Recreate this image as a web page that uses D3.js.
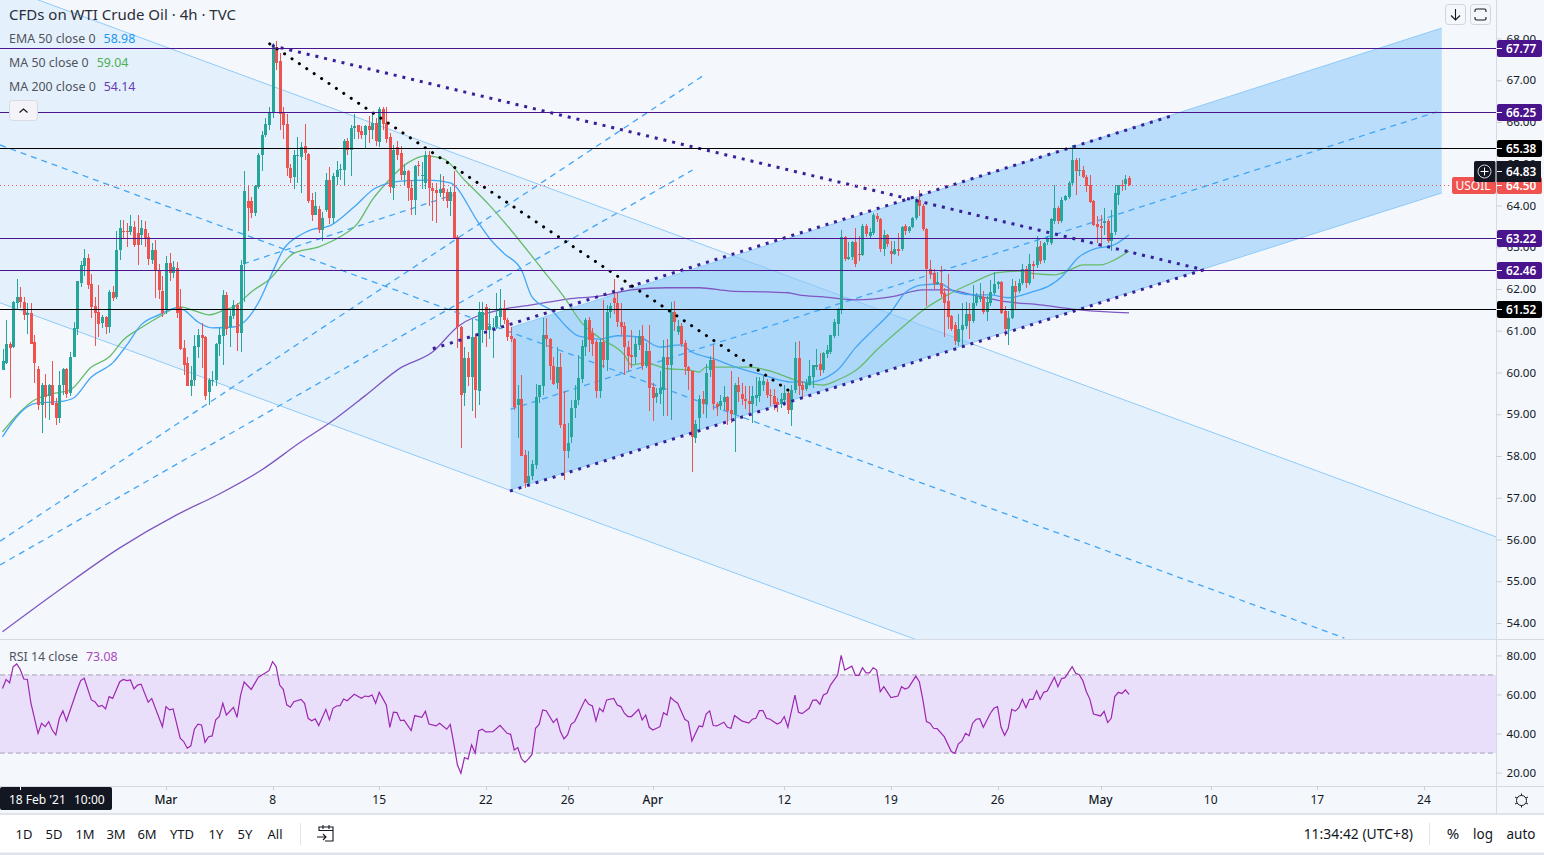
<!DOCTYPE html>
<html><head><meta charset="utf-8">
<style>html,body{margin:0;padding:0;background:#fff;overflow:hidden}svg{display:block}text{font-family:"Noto Sans",sans-serif}</style>
<script src="https://cdn.jsdelivr.net/npm/d3@7"></script></head><body><svg id="c" width="1544" height="855"></svg>
<script>
const opens=[60.07,60.22,60.69,60.6,61.66,61.8,61.69,61.38,61.42,60.74,
60.09,59.23,59.69,59.43,59.71,59.27,58.92,59.69,60.09,59.51,
60.37,61.05,62.14,62.55,62.74,62.12,61.6,61.46,61.18,61.33,
61.1,61.93,61.8,62.94,63.4,63.4,63.36,63.48,63.34,63.3,
63.44,63.24,62.7,62.94,62.46,61.96,61.5,62.62,62.38,62.5,
61.58,60.58,60.22,59.68,59.81,60.62,60.9,60.86,59.53,59.79,
59.81,60.69,60.88,61.86,61.08,61.36,61.62,60.94,62.6,64.1,
64.1,63.82,64.45,65.22,65.7,65.94,66.25,67.8,67.45,66.23,
65.95,64.9,64.68,65.2,65.17,65.42,65.24,64.14,63.78,63.92,
63.42,63.9,64.62,63.7,64.68,64.85,64.86,65.54,65.34,65.85,
65.93,65.78,65.7,65.9,65.8,65.97,65.53,66.3,65.98,65.65,
64.42,65.4,65.25,64.72,64.82,64.42,64.12,64.96,64.7,64.55,
65.22,64.42,64.38,64.3,64.42,64.32,64.1,64.32,63.25,61.1,
59.52,60.35,59.9,60.86,59.55,61.02,61.58,61.02,61.02,61.1,
61.34,61.54,61.26,60.88,60.8,59.21,59.36,58.02,57.35,57.52,
57.79,59.41,59.68,60.9,60.81,60.15,59.75,60.13,58.77,58.11,
58.45,59.15,59.33,59.85,60.62,61.26,60.94,60.72,59.55,60.72,
60.29,61.46,61.78,61.66,61.22,61.12,60.6,60.42,60.38,60.66,
60.88,60.16,60.52,59.65,59.41,59.49,59.59,60.37,60.19,61.46,
60.98,61.12,60.71,60.12,60.03,58.43,58.92,59.36,59.25,60.06,
60.3,59.25,59.2,59.3,59.41,59.09,59.01,59.71,59.49,59.36,
59.32,59.25,59.39,59.44,59.7,59.77,59.45,59.44,59.3,59.25,
59.33,59.5,59.11,59.59,60.35,59.69,59.6,59.71,59.9,60.13,
60.2,60.05,60.45,60.5,60.88,61.17,61.5,63.25,62.73,62.76,
63.13,62.85,62.81,63.52,63.27,63.35,63.76,63.68,62.95,63.3,
62.9,62.85,62.95,62.95,63.52,63.39,63.49,63.69,64.12,64.0,
63.44,62.49,62.39,62.13,62.15,61.9,61.71,61.35,61.13,60.74,
61.02,61.11,61.39,61.23,61.67,61.75,61.8,61.45,61.67,61.91,
62.11,62.17,61.47,61.03,61.31,62.07,61.95,62.15,62.49,62.15,
62.6,62.57,63.03,62.69,63.12,63.1,63.62,63.94,63.62,64.13,
64.2,64.53,65.08,64.82,64.86,64.69,64.49,64.1,63.55,63.5,
63.58,63.64,63.15,63.36,64.26,64.5,64.52,64.65];
const highs=[60.57,61.25,60.74,61.72,62.24,62.04,61.8,61.66,61.66,60.9,
60.15,59.75,59.97,59.73,60.27,59.39,60.03,60.11,60.11,60.5,
61.22,62.2,62.66,62.96,62.85,62.35,61.82,62.1,61.38,61.35,
61.98,62.06,63.38,63.66,63.66,63.58,63.78,63.62,63.78,63.66,
63.62,63.34,63.1,63.18,62.6,62.3,62.8,62.86,62.66,62.65,
62.0,60.77,60.37,60.15,60.9,61.04,61.18,60.88,59.87,60.03,
60.7,61.06,61.98,61.92,61.5,61.74,61.66,62.7,64.83,64.5,
64.2,64.49,65.25,65.78,66.1,66.36,67.9,67.95,67.65,66.36,
66.2,65.0,65.32,65.65,65.53,65.95,65.26,64.3,64.32,64.0,
63.84,64.77,64.92,64.78,65.07,65.0,65.6,65.62,65.93,66.2,
65.93,65.9,65.93,66.15,66.2,66.1,66.37,66.36,66.36,65.73,
65.45,65.55,65.42,65.0,64.85,64.62,64.98,65.07,65.05,65.3,
65.3,64.55,64.55,64.75,64.7,64.4,64.45,64.82,63.3,61.12,
60.6,60.5,61.3,60.9,61.7,61.7,61.65,61.54,61.3,61.9,
62.0,61.74,61.3,61.1,60.82,59.7,59.95,58.15,58.11,57.91,
59.73,59.71,61.3,61.3,60.83,60.38,60.62,60.46,59.55,58.8,
59.35,59.7,60.42,60.78,61.3,61.33,61.06,60.78,60.8,61.74,
61.62,61.66,62.24,61.9,61.66,61.22,60.75,61.02,60.86,61.02,
61.14,60.7,61.14,59.75,59.63,60.03,60.78,60.8,61.7,61.72,
61.26,61.18,60.78,60.15,60.04,58.87,59.46,59.55,60.2,60.4,
60.67,59.3,59.47,59.67,59.43,60.03,59.75,59.9,59.75,59.67,
59.67,59.67,59.9,59.9,59.95,59.85,59.6,59.6,59.4,59.5,
59.7,59.6,59.7,60.72,60.75,59.8,59.85,60.3,60.19,60.56,
60.47,60.5,60.67,60.9,61.29,61.54,63.42,63.27,63.12,63.14,
63.46,63.27,63.55,63.55,63.46,63.82,63.82,63.7,63.42,63.32,
63.15,63.15,63.34,63.5,63.55,63.5,63.72,64.18,64.36,64.03,
63.46,62.7,62.47,62.4,62.56,62.03,62.35,61.37,61.2,61.4,
61.67,61.7,61.67,62.1,61.9,62.15,61.95,61.83,62.21,62.4,
62.2,62.19,61.6,61.47,62.25,62.19,62.25,62.6,62.55,62.83,
62.67,63.27,63.15,63.12,63.27,63.7,64.49,64.0,64.2,64.26,
64.58,65.46,65.14,65.14,64.94,64.74,64.74,64.14,63.75,63.78,
63.94,63.67,63.89,64.49,64.5,64.62,64.72,64.7];
const lows=[60.05,60.2,59.4,60.58,61.52,61.54,61.25,60.93,60.69,59.76,
59.1,58.55,58.91,58.87,59.23,58.75,58.79,59.47,59.4,59.44,
60.37,60.89,62.05,62.3,62.0,61.3,60.64,60.86,61.06,60.93,
60.94,61.72,61.75,62.7,63.22,63.0,63.3,63.0,62.58,63.05,
63.0,62.58,62.6,61.78,61.75,61.32,61.4,62.2,62.26,61.3,
60.54,59.95,59.67,59.43,59.67,60.35,60.1,59.35,59.23,59.67,
59.67,60.4,60.18,60.9,60.62,61.28,60.52,60.5,61.7,63.4,
63.7,63.75,64.4,64.82,65.65,65.8,66.1,67.25,65.8,65.6,
64.7,64.55,64.4,64.53,64.3,65.1,64.06,63.62,63.78,63.34,
63.15,63.85,63.55,63.55,64.5,64.6,64.5,65.2,64.7,65.6,
65.6,65.6,65.38,65.5,65.6,65.42,65.4,65.8,65.5,64.3,
64.12,65.1,64.6,64.5,64.1,63.78,63.78,64.7,64.4,64.4,
64.0,63.62,63.58,64.2,64.1,63.95,63.75,63.2,60.58,58.2,
59.2,59.68,59.07,58.91,59.23,60.7,60.6,60.8,60.35,61.05,
61.1,61.15,60.75,60.74,59.1,58.43,57.99,57.23,57.27,57.43,
57.7,59.27,59.47,60.6,59.83,59.7,59.6,58.67,57.43,57.95,
58.31,58.9,59.23,59.75,60.4,60.5,60.4,59.39,59.4,60.1,
60.03,61.3,61.4,61.1,60.9,59.95,60.03,60.1,60.2,60.55,
60.05,60.1,59.07,58.83,59.27,59.25,58.95,58.95,58.87,61.0,
60.9,60.6,59.95,59.59,57.61,58.31,58.63,59.0,58.9,59.9,
59.1,58.95,59.1,59.1,58.75,58.8,58.09,59.3,59.23,59.13,
59.0,58.8,59.2,59.3,59.55,59.4,59.2,59.1,59.05,59.15,
59.2,59.0,58.71,59.5,59.47,59.4,59.55,59.67,59.63,60.07,
59.92,60.0,60.35,60.45,60.83,60.87,61.4,62.67,62.69,62.7,
62.52,62.67,62.78,63.25,63.2,63.3,63.6,62.88,62.8,63.0,
62.6,62.82,62.78,62.9,63.3,63.35,63.45,63.65,63.75,63.4,
61.6,62.25,62.0,62.1,61.8,60.85,61.03,61.0,60.65,60.63,
60.59,61.05,60.8,61.18,61.6,61.7,61.4,61.23,61.6,61.85,
62.0,61.39,60.87,60.66,61.28,61.5,61.9,62.1,62.03,62.1,
62.23,62.5,62.6,62.63,63.05,63.05,63.55,63.55,63.58,64.1,
64.15,64.5,64.26,64.7,64.65,64.33,64.05,63.5,63.09,63.0,
63.3,63.1,62.9,63.3,64.02,64.34,64.38,64.47];
const closes=[60.27,60.69,60.58,61.69,61.8,61.68,61.38,61.42,60.69,60.22,
59.23,59.7,59.41,59.71,59.23,58.92,59.71,60.09,59.49,60.37,
61.06,62.18,62.57,62.74,62.1,61.57,61.42,61.17,61.33,61.09,
61.94,61.78,62.94,63.46,63.38,63.38,63.5,63.06,63.06,63.46,
63.22,62.72,62.94,62.46,61.97,61.42,62.62,62.38,62.52,61.42,
60.56,60.18,59.67,59.81,60.64,60.9,60.82,59.43,59.81,59.83,
60.69,60.9,61.86,61.05,61.36,61.62,60.94,62.58,64.35,63.95,
63.82,64.47,65.2,65.7,65.96,66.25,67.8,67.41,66.2,65.93,
64.9,64.66,65.2,65.22,65.4,65.26,64.1,63.78,63.99,63.42,
63.7,64.62,63.7,64.7,64.85,64.88,65.54,65.34,65.85,65.9,
65.77,65.7,65.91,65.8,65.97,65.55,66.3,65.96,65.6,64.45,
65.33,65.2,64.73,64.82,64.42,64.12,64.95,64.94,64.74,65.2,
64.42,64.35,64.3,64.4,64.3,64.1,64.32,63.22,61.09,59.47,
60.35,59.9,60.86,59.57,61.46,61.45,61.02,61.12,61.1,61.36,
61.54,61.26,60.86,60.8,59.18,59.36,57.99,57.35,57.53,57.81,
59.41,59.69,60.9,60.81,60.15,59.73,60.13,58.75,58.11,58.31,
59.15,59.35,59.87,60.64,61.26,60.78,60.69,59.55,60.72,60.29,
61.46,61.6,61.66,61.22,61.1,60.6,60.4,60.36,60.69,60.88,
60.15,60.52,59.63,59.4,59.5,59.63,60.37,60.19,61.46,61.22,
61.12,60.69,60.12,60.03,58.45,58.77,59.36,59.25,59.99,60.3,
59.25,59.17,59.32,59.41,59.07,59.01,59.71,59.53,59.36,59.31,
59.25,59.43,59.47,59.79,59.79,59.47,59.43,59.25,59.23,59.36,
59.5,59.1,59.57,60.35,59.67,59.59,59.75,59.92,60.19,60.19,
60.05,60.47,60.53,60.89,61.22,61.52,63.25,62.71,62.76,63.13,
62.59,62.81,63.52,63.31,63.36,63.78,63.67,62.95,63.3,63.07,
62.85,62.96,62.92,63.49,63.38,63.49,63.7,64.16,63.98,63.44,
62.47,62.36,62.13,62.16,61.87,61.67,61.34,61.05,60.75,61.03,
61.13,61.39,61.23,61.67,61.83,61.81,61.45,61.7,61.93,62.13,
62.17,61.43,61.05,61.31,62.07,61.93,62.15,62.49,62.15,62.6,
62.55,63.0,62.67,63.1,63.23,63.68,63.94,63.62,64.14,64.22,
64.54,65.08,64.82,64.86,64.69,64.46,64.08,63.53,63.48,63.46,
63.64,63.15,63.35,64.29,64.5,64.46,64.64,64.5];

const emaBars=[0,4,7,10,16,20,25,31,35,39,44,49,51,55,59,65,68,72,76,79,84,87,92,99,105,113,120,126,134,137,141,146,149,155,159,162,168,173,179,185,191,194,200,207,214,222,227,232,235,240,245,250,254,259,264,268,273,278,283,289,295,298,303,308,312,317];
const emaVals=[58.46,58.94,59.18,59.27,59.30,59.39,59.89,60.23,60.66,61.14,61.38,61.55,61.50,61.21,61.07,61.09,61.21,61.67,62.41,62.94,63.30,63.42,63.51,63.97,64.42,64.59,64.61,64.54,63.58,63.22,62.86,62.46,61.81,61.45,61.07,60.88,60.80,60.88,60.85,60.61,60.66,60.49,60.33,60.11,59.94,59.77,59.77,59.89,60.06,60.59,61.02,61.45,61.91,62.10,62.12,61.93,61.86,61.86,61.79,61.91,62.10,62.29,62.77,62.98,63.03,63.30];
const maBars=[0,5,9,14,19,25,30,34,39,44,50,55,58,62,66,70,75,82,89,95,100,104,108,114,119,124,130,137,143,152,158,163,168,175,177,181,187,193,196,198,202,210,217,223,226,231,235,238,241,246,254,260,266,273,280,286,291,296,301,304,309,313,317];
const maVals=[58.58,59.06,59.34,59.49,59.58,60.13,60.37,60.78,61.07,61.33,61.57,61.45,61.38,61.48,61.62,61.93,62.22,62.86,63.01,63.25,63.58,64.13,64.54,65.02,65.19,65.12,64.61,64.01,63.42,62.46,61.81,61.19,60.83,60.42,60.18,60.23,60.09,60.06,60.01,60.13,60.13,60.13,60.01,59.82,59.75,59.70,59.82,59.94,60.11,60.54,61.14,61.55,61.86,62.15,62.39,62.43,62.36,62.34,62.48,62.58,62.58,62.70,62.91];
const ma200Bars=[0,16,33,49,61,73,84,92,102,112,121,128,140,149,159,168,177,187,196,205,215,221,224,231,240,250,259,266,273,283,292,301,311,317];
const ma200Vals=[53.79,54.79,55.80,56.59,57.09,57.67,58.34,58.79,59.44,60.11,60.49,61.09,61.50,61.62,61.76,61.83,61.98,62.03,62.03,61.95,61.93,61.91,61.86,61.81,61.74,61.81,61.98,61.98,61.86,61.69,61.62,61.52,61.45,61.43];

const rsiBars=[0,1,2,3,4,5,6,7,8,10,11,12,13,14,15,16,17,18,21,22,23,25,26,27,28,29,30,31,33,34,35,36,37,38,39,41,42,45,46,47,48,50,51,52,53,54,55,56,57,58,59,60,61,62,63,65,66,67,68,70,71,72,75,76,77,78,79,80,81,82,84,85,86,87,88,89,91,92,93,94,95,96,97,99,101,102,103,104,105,106,107,108,109,110,111,112,113,115,116,118,119,120,122,123,125,126,127,128,129,130,131,132,133,134,135,136,138,140,142,143,144,145,146,147,148,149,150,151,152,153,155,156,157,158,159,160,161,164,165,166,167,168,169,170,172,173,174,175,176,177,179,180,181,182,183,185,186,187,188,189,190,192,193,194,196,197,198,199,200,201,203,204,205,206,208,210,211,212,213,214,215,216,218,219,220,221,223,224,225,227,228,229,230,231,232,233,235,236,237,239,240,241,242,243,244,245,246,247,248,250,252,253,254,255,257,258,259,260,261,262,263,265,267,268,269,270,271,272,273,274,275,276,278,279,280,281,282,283,284,285,286,287,288,289,290,291,292,293,294,296,297,298,299,301,302,303,304,305,306,307,309,310,311,312,313,314,315,316,317];
const rsiVals=[63.1,67.7,66.0,74.2,75.6,72.8,67.9,67.7,55.5,40.1,45.2,43.5,46.1,41.8,39.3,47.8,51.6,46.5,62.3,67.1,68.3,57.2,56.3,53.8,54.4,52.6,58.9,58.0,66.5,67.7,67.1,67.4,62.8,64.8,65.3,56.0,57.9,43.5,53.8,52.1,52.6,37.6,35.9,32.5,33.7,42.2,44.8,44.4,35.5,38.4,38.8,47.0,48.7,55.5,49.5,53.4,48.3,59.7,66.4,62.6,65.7,68.8,72.2,76.8,74.3,64.8,62.6,54.7,53.5,56.3,57.5,55.5,47.8,46.5,47.5,44.1,52.4,47.0,52.9,54.1,54.3,57.7,56.8,60.1,58.0,59.2,58.9,59.7,55.5,61.1,58.0,54.6,43.2,50.9,50.7,46.6,46.8,41.5,49.2,48.3,51.4,44.9,43.9,45.2,42.2,44.7,35.0,24.0,19.7,27.7,26.9,34.2,30.0,41.5,42.2,40.8,41.0,44.2,40.1,39.6,31.6,32.8,27.2,25.2,27.0,29.3,42.7,44.7,52.1,51.7,45.6,47.6,41.0,37.2,39.3,44.7,46.1,57.5,55.0,54.1,46.5,52.9,51.2,57.2,58.0,54.6,53.8,50.4,48.7,48.7,52.4,47.0,49.5,43.2,41.8,43.5,50.7,49.5,58.5,56.8,55.5,47.3,46.1,36.2,43.9,43.5,50.0,51.6,44.1,43.9,45.8,43.2,42.7,49.2,46.5,45.3,47.3,47.8,51.7,51.7,47.8,47.3,44.9,45.8,48.7,43.2,59.7,50.9,50.2,52.9,57.0,57.2,55.0,59.7,60.6,64.8,69.9,80.0,72.5,74.5,69.8,69.8,73.7,71.1,71.1,73.7,72.5,61.4,64.0,58.4,59.2,64.0,62.8,63.6,69.4,66.5,57.2,46.1,45.3,42.7,42.5,38.4,30.8,29.8,34.7,36.2,40.1,38.9,45.3,47.3,47.6,43.2,50.4,52.9,53.8,43.2,39.1,42.7,52.4,51.5,53.2,57.5,53.2,57.5,57.5,61.9,57.5,61.1,61.8,68.8,64.0,68.1,68.6,74.2,70.8,70.1,67.1,61.4,57.5,50.0,49.0,51.4,45.6,47.8,58.9,61.1,60.5,62.3,60.1];

const priceTicks=[54,55,56,57,58,59,60,61,62,63,64,65,66,67,68];
const rsiTicks=[20,40,60,80];
const timeBars=[46,76,106,136,159,183,220,250,280,309,340,370,400];
const timeLabels=["Mar","8","15","22","26","Apr","12","19","26","May","10","17","24"];
const purpleLevels=[67.77,66.25,63.22,62.46];
const blackLevels=[65.38,61.52];
const lastClose=64.50, crossPrice=64.83;
const ranges=["1D","5D","1M","3M","6M","YTD","1Y","5Y","All"];

// drawings, anchored as [bar, price]
const wideChannelFill=[[-0.7,69.26],[420.4,56.06],[420.4,48.49],[-0.7,61.67]];
const wideChannelEdges=[[[-0.7,69.26],[420.4,56.06]],[[-0.7,61.67],[420.4,48.49]]];
const upChannelFill=[[143,61.07],[405,68.25],[405,64.30],[143,57.19]];
const upChannelEdges=[[[143,61.07],[405,68.25]],[[143,57.19],[405,64.30]]];
const dashedLines=[[[-0.7,65.45],[377.6,53.64]],[[143,59.12],[403.5,66.24]],[[-0.7,55.96],[197,67.10]],[[-0.7,55.39],[194.2,64.85]],[[67.7,62.60],[126.7,64.25]]];
const purpleDotted=[[[75.8,67.83],[338,62.46]],[[121.1,60.57],[329.8,66.17]],[[142.8,57.16],[338,62.46]]];
const blackDotted=[[75.2,67.87],[222.6,59.49]];

const W=1544,H=855,paneR=1497,priceB=639,rsiB=786,axisB=813;
const x=d3.scaleLinear().domain([0,317]).range([2.5,1129]);
const y=d3.scaleLinear().domain([54,68]).range([623,38.5]);
const ry=d3.scaleLinear().domain([20,80]).range([772.6,655.4]);
const svg=d3.select("#c");
const bg="#f4f8fd",ink="#131722",txt2="#50535e",up="#26a69a",dn="#ef5350",pur="#4a148c";
svg.append("rect").attr("width",W).attr("height",H).attr("fill","#fff");
svg.append("rect").attr("width",W).attr("height",axisB).attr("fill",bg);
const defs=svg.append("defs");
defs.append("clipPath").attr("id","pp").append("rect").attr("width",paneR).attr("height",priceB);
defs.append("clipPath").attr("id","rp").append("rect").attr("y",priceB).attr("width",paneR).attr("height",rsiB-priceB);
const line=d3.line().x(d=>x(d[0])).y(d=>y(d[1]));
const p=svg.append("g").attr("clip-path","url(#pp)");

p.append("path").attr("d",line(wideChannelFill)+"Z").attr("fill","#2196f3").attr("fill-opacity",.07);
p.append("path").attr("d",line(upChannelFill)+"Z").attr("fill","#2196f3").attr("fill-opacity",.28);
p.selectAll(".e").data(wideChannelEdges.concat(upChannelEdges)).join("path").attr("d",line).attr("fill","none").attr("stroke","#90caf9").attr("stroke-width",1);
p.selectAll(".d").data(dashedLines).join("path").attr("d",line).attr("fill","none").attr("stroke","#42a5f5").attr("stroke-width",1.3).attr("stroke-dasharray","6 5");

const smooth=d3.line().curve(d3.curveMonotoneX).x(d=>x(d[0])).y(d=>y(d[1]));
const series=(b,v)=>b.map((d,i)=>[d,v[i]]);
[[ma200Bars,ma200Vals,"#7e57c2"],[maBars,maVals,"#66bb6a"],[emaBars,emaVals,"#42a5f5"]].forEach(s=>{
 p.append("path").datum(series(s[0],s[1])).attr("d",smooth).attr("fill","none").attr("stroke",s[2]).attr("stroke-width",1.3);
});

const bars=d3.range(opens.length);
const g=p.append("g").attr("shape-rendering","crispEdges");
g.selectAll(".w").data(bars).join("rect").attr("x",i=>Math.round(x(i))).attr("width",1)
 .attr("y",i=>y(highs[i])).attr("height",i=>Math.max(1,y(lows[i])-y(highs[i])))
 .attr("fill",i=>closes[i]>=opens[i]?up:dn);
g.selectAll(".b").data(bars).join("rect").attr("x",i=>Math.round(x(i))-1).attr("width",3)
 .attr("y",i=>y(Math.max(opens[i],closes[i]))).attr("height",i=>Math.max(1,Math.abs(y(opens[i])-y(closes[i]))))
 .attr("fill",i=>closes[i]>=opens[i]?up:dn);

p.selectAll(".pd").data(purpleDotted).join("path").attr("d",line).attr("fill","none").attr("stroke","#38209a").attr("stroke-width",3).attr("stroke-dasharray","3 5.95");
p.append("path").attr("d",line(blackDotted)).attr("fill","none").attr("stroke","#000").attr("stroke-width",3).attr("stroke-linecap","round").attr("stroke-dasharray","0.1 8.8");

const lv=svg.append("g").attr("shape-rendering","crispEdges");
const hline=(v,c)=>lv.append("line").attr("x1",0).attr("x2",paneR+5).attr("y1",Math.round(y(v))+.5).attr("y2",Math.round(y(v))+.5).attr("stroke",c).attr("stroke-width",1);
purpleLevels.forEach(v=>hline(v,pur));
blackLevels.forEach(v=>hline(v,"#000"));
svg.append("line").attr("x1",0).attr("x2",paneR).attr("y1",Math.round(y(lastClose))+.5).attr("y2",Math.round(y(lastClose))+.5).attr("stroke",dn).attr("stroke-width",1).attr("stroke-dasharray","1 3");

// RSI pane
const rp=svg.append("g").attr("clip-path","url(#rp)");
rp.append("rect").attr("x",0).attr("width",paneR).attr("y",ry(70)).attr("height",ry(30)-ry(70)).attr("fill","#e9dffa");
[70,30].forEach(v=>rp.append("line").attr("x1",0).attr("x2",paneR).attr("y1",ry(v)).attr("y2",ry(v)).attr("stroke","#a9a1b5").attr("stroke-dasharray","5 3").attr("stroke-width",1));
rp.append("path").datum(series(rsiBars,rsiVals)).attr("d",d3.line().x(d=>x(d[0])).y(d=>ry(d[1]))).attr("fill","none").attr("stroke","#9c27b0").attr("stroke-width",1.2);

// axis frames
const fr=svg.append("g").attr("stroke","#d6dae4").attr("shape-rendering","crispEdges");
fr.append("line").attr("x1",0).attr("x2",W).attr("y1",priceB+.5).attr("y2",priceB+.5);
fr.append("line").attr("x1",0).attr("x2",W).attr("y1",rsiB+.5).attr("y2",rsiB+.5);
fr.append("line").attr("x1",paneR-.5).attr("x2",paneR-.5).attr("y1",0).attr("y2",axisB);
svg.append("rect").attr("y",813).attr("width",W).attr("height",2).attr("fill","#e0e3eb");
svg.append("rect").attr("y",852.5).attr("width",W).attr("height",2.5).attr("fill","#e0e3eb");

const label=(sel,tx,ty,s,o={})=>sel.append("text").attr("x",tx).attr("y",ty).attr("dy","0.35em").text(s)
 .attr("font-size",o.size||12).attr("fill",o.fill||ink).attr("text-anchor",o.anchor||"start").attr("font-weight",o.weight||400);

// price & rsi ticks through d3 axis
const axR=d3.axisRight(y).tickValues(priceTicks).tickFormat(d3.format(".2f")).tickSize(5).tickPadding(5);
const ga=svg.append("g").attr("transform",`translate(${paneR-.5},0)`).call(axR);
ga.select(".domain").remove();ga.selectAll("line").attr("stroke","#c9ced9");ga.selectAll("text").attr("font-size",11.6).attr("fill",ink).attr("font-family",'"Noto Sans",sans-serif');
const axRsi=d3.axisRight(ry).tickValues(rsiTicks).tickFormat(d3.format(".2f")).tickSize(5).tickPadding(5);
const gr=svg.append("g").attr("transform",`translate(${paneR-.5},0)`).call(axRsi);
gr.select(".domain").remove();gr.selectAll("line").attr("stroke","#c9ced9");gr.selectAll("text").attr("font-size",11.6).attr("fill",ink).attr("font-family",'"Noto Sans",sans-serif');

// time axis
const ax=svg.append("g");
timeBars.forEach((b,i)=>{
 ax.append("line").attr("x1",Math.round(x(b))+.5).attr("x2",Math.round(x(b))+.5).attr("y1",786).attr("y2",790).attr("stroke","#c9ced9");
 label(ax,x(b),800,timeLabels[i],{anchor:"middle",size:12,weight:(timeLabels[i]=="Mar"||timeLabels[i]=="Apr"||timeLabels[i]=="May")?500:400});
});
const crossBox=ax.append("g");
crossBox.append("rect").attr("x",0).attr("y",787).attr("width",112).attr("height",23).attr("rx",2).attr("fill",ink);
crossBox.append("line").attr("x1",20.5).attr("x2",20.5).attr("y1",786).attr("y2",790).attr("stroke","#fff");
label(crossBox,9,800,"18 Feb '21",{fill:"#fff",size:12});
label(crossBox,74,800,"10:00",{fill:"#fff",size:12});

// price labels
const tag=(v,fill)=>{const yy=Math.round(y(v));
 svg.append("rect").attr("x",paneR).attr("y",yy-8).attr("width",45).attr("height",17).attr("rx",2).attr("fill",fill);
 svg.append("line").attr("x1",paneR).attr("x2",paneR+5).attr("y1",yy+.5).attr("y2",yy+.5).attr("stroke","#fff");
 label(svg,paneR+9,yy+.5,d3.format(".2f")(v),{fill:"#fff",size:11.8,weight:600});};
const yl=Math.round(y(lastClose));
svg.append("rect").attr("x",1452).attr("y",yl-8).attr("width",44).attr("height",17).attr("rx",2).attr("fill",dn);
label(svg,1473,yl+.5,"USOIL",{fill:"#fff",anchor:"middle",size:12});
tag(lastClose,dn);
purpleLevels.forEach(v=>tag(v,pur));
blackLevels.forEach(v=>tag(v,"#000"));
const yc=Math.round(y(crossPrice));
svg.append("rect").attr("x",1474).attr("y",yc-10).attr("width",22).attr("height",21).attr("rx",2).attr("fill",ink);
svg.append("rect").attr("x",1496).attr("y",yc-10).attr("width",45).attr("height",21).attr("fill",ink);
svg.append("rect").attr("x",1495.5).attr("y",yc-10).attr("width",1).attr("height",21).attr("fill","#fff");
svg.append("circle").attr("cx",1484.5).attr("cy",yc+.5).attr("r",6.5).attr("fill","none").attr("stroke","#d1d4dc");
svg.append("path").attr("d",`M1480.5 ${yc+.5}h8M1484.5 ${yc-3.5}v8`).attr("stroke","#fff").attr("fill","none");
svg.append("line").attr("x1",paneR).attr("x2",paneR+5).attr("y1",yc+.5).attr("y2",yc+.5).attr("stroke","#fff");
label(svg,paneR+9,yc+.5,d3.format(".2f")(crossPrice),{fill:"#fff",size:11.8,weight:600});

// legends
label(svg,9,15,"CFDs on WTI Crude Oil · 4h · TVC",{size:15,fill:"#2a2e39"});
const leg=[["EMA 50 close 0","58.98","#2196f3",38.5],["MA 50 close 0","59.04","#4caf50",62.5],["MA 200 close 0","54.14","#673ab7",86.5],["RSI 14 close","73.08","#ab47bc",656.5]];
leg.forEach(l=>{const t=label(svg,9,l[3],l[0],{size:12.4,fill:txt2});
 const w=t.node().getComputedTextLength();label(svg,9+w+8,l[3],l[1],{size:12.4,fill:l[2]});});
svg.append("rect").attr("x",9.5).attr("y",100.5).attr("width",28).attr("height",20).attr("rx",3).attr("fill","#f4f4f8").attr("stroke","#d9dbe3");
svg.append("path").attr("d","M19.5 112.5l4-3.5 4 3.5").attr("fill","none").attr("stroke","#131722").attr("stroke-width",1.2);

// top-right buttons
[1445,1470].forEach(bx=>svg.append("rect").attr("x",bx+.5).attr("y",4.5).attr("width",20).attr("height",20).attr("rx",3).attr("fill","#f4f8fd").attr("stroke","#d1d4dc"));
svg.append("path").attr("d","M1455.5 9v11M1451 15.5l4.5 4.5 4.5-4.5").attr("fill","none").attr("stroke","#131722").attr("stroke-width",1.1);
svg.append("path").attr("d","M1475 12v-1.5q0-1.5 1.5-1.5h8q1.5 0 1.5 1.5v1.5M1475 17v1.5q0 1.5 1.5 1.5h8q1.5 0 1.5-1.5v-1.5").attr("fill","none").attr("stroke","#131722").attr("stroke-width",1.1);

// gear
const gear=svg.append("g").attr("transform","translate(1521.5,800.5)");
gear.append("circle").attr("r",5).attr("fill","none").attr("stroke","#131722");
[[0,-7,0,-5],[0,5,0,7],[-6.5,-3.5,-4.5,-2.5],[6.5,-3.5,4.5,-2.5],[-6.5,3.5,-4.5,2.5],[6.5,3.5,4.5,2.5]].forEach(s=>gear.append("line").attr("x1",s[0]).attr("y1",s[1]).attr("x2",s[2]).attr("y2",s[3]).attr("stroke","#131722"));

// toolbar
[24,54,85,116,147,182,216,245,275].forEach((bx,i)=>label(svg,bx,834,ranges[i],{anchor:"middle",size:13}));
svg.append("line").attr("x1",300.5).attr("x2",300.5).attr("y1",823).attr("y2",845).attr("stroke","#e0e3eb");
svg.append("path").attr("d","M319 831v-4h14v14h-8M319 830.5h14M323 825v4M329 825v4M317 837h9M323 834l3 3-3 3").attr("fill","none").attr("stroke","#131722").attr("stroke-width",1.1);
label(svg,1413,834,"11:34:42 (UTC+8)",{anchor:"end",size:13.9});
svg.append("line").attr("x1",1429.5).attr("x2",1429.5).attr("y1",823).attr("y2",845).attr("stroke","#e0e3eb");
label(svg,1453,834,"%",{anchor:"middle",size:15});
label(svg,1483,834,"log",{anchor:"middle",size:13.5});
label(svg,1521,834,"auto",{anchor:"middle",size:13.5});
</script></body></html>
